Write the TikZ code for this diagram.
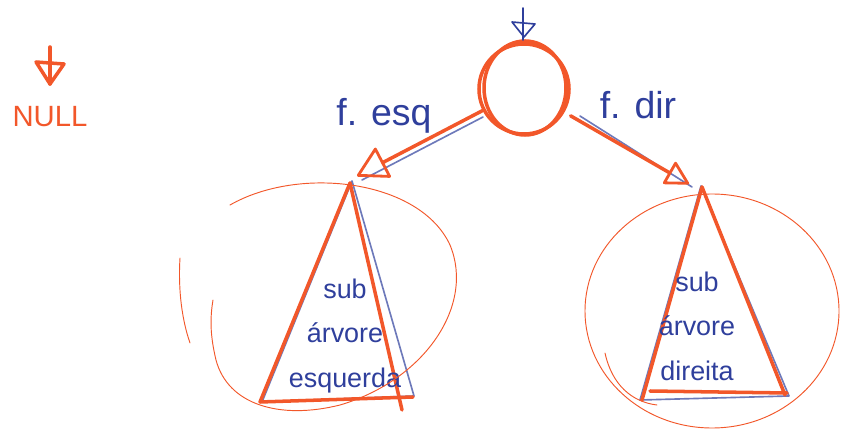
\documentclass[tikz,border=0pt]{standalone}
\usepackage{fontspec}
\setmainfont{Liberation Sans}
\usetikzlibrary{arrows.meta,positioning}

\definecolor{laranja}{HTML}{F2572A}
\definecolor{tinta}{HTML}{2F3F9C}

\begin{document}
\begin{tikzpicture}[
  x=0.03cm, y=-0.03cm,
  traco/.style={draw=laranja, line width=3pt, line cap=round, line join=round},
  fino/.style={draw=laranja, line width=0.8pt, line cap=round},
  esboco/.style={draw=tinta!70, line width=1.4pt, line cap=round, line join=round},
  seta/.style={traco, -{Triangle[open, length=0.95cm, width=1.05cm, line width=2.4pt, round]}},
  setad/.style={traco, -{Triangle[open, length=0.75cm, width=0.8cm, line width=2.4pt, round]}},
  rotulo/.style={font=\fontsize{32}{32}\selectfont, text=tinta},
  interno/.style={font=\fontsize{23}{38}\selectfont, text=tinta, align=center},
  raizstyle/.style={circle, draw=laranja, line width=3pt, minimum size=2.7cm, inner sep=0pt},
]
  \useasboundingbox (0,0) rectangle (841,431);
  \clip (0,0) rectangle (841,431);

  % NULL (topo esquerdo)
  \node[font=\fontsize{25}{25}\selectfont, text=laranja] (nulo) at (50,117) {NULL};
  \coordinate (nulotopo) at (50,47);
  \coordinate (nulobase) at (50,84);
  \draw[traco] (nulotopo) -- (nulobase);
  \draw[traco] (36,62) -- (64,64) -- (nulobase) -- cycle;

  % raiz
  \node[raizstyle] (raiz) at (524,89) {};
  \draw[traco] (525,88) ellipse [x radius=41, y radius=47];
  \coordinate (entradatopo) at (523,8);
  \coordinate (entradabase) at (523,40);
  \draw[esboco, draw=tinta] (entradatopo) -- (entradabase);
  \draw[esboco, draw=tinta] (512,22) -- (535,24) -- (524,37) -- cycle;

  % rotulos dos filhos
  \node[rotulo] (rotesq) at (384,116) {f. esq};
  \node[rotulo] (rotdir) at (638,105) {f. dir};

  % sub-arvore esquerda
  \coordinate (topoesq) at (350,183);
  \draw[esboco] (352,181) -- (262,402) -- (414,396) -- cycle;
  \draw[traco] (topoesq) -- (260,402) -- (413,397);
  \draw[traco] (topoesq) -- (402,410);
  \node[interno] (subesq) at (345,336) {sub\\árvore\\esquerda};
  \draw[fino] (230,205) .. controls (300,165) and (420,180) .. (450,245)
    .. controls (475,305) and (425,380) .. (340,405)
    .. controls (280,420) and (228,405) .. (216,360)
    .. controls (210,335) and (210,318) .. (213,300);
  \draw[fino] (180,258) .. controls (178,290) and (182,320) .. (190,343);

  % sub-arvore direita
  \coordinate (topodir) at (702,187);
  \draw[esboco] (701,186) -- (640,400) -- (789,396) -- cycle;
  \draw[traco] (topodir) -- (642,400);
  \draw[traco] (topodir) -- (785,395);
  \draw[traco] (650,391) -- (787,393);
  \node[interno] (subdir) at (697,326) {sub\\árvore\\direita};
  \draw[fino] (712,311) ellipse [x radius=127, y radius=117];
  \draw[fino] (605,353) .. controls (612,385) and (632,402) .. (657,405);

  % ponteiros para os filhos
  \coordinate (pontaesq) at (357,176);
  \coordinate (pontadir) at (689,184);
  \draw[esboco] (483,117) -- (362,180);
  \draw[esboco] (580,116) -- (692,187);
  \draw[seta] (raiz) -- (pontaesq);
  \draw[setad, shorten <=6pt] (raiz) -- (pontadir);
\end{tikzpicture}
\end{document}
